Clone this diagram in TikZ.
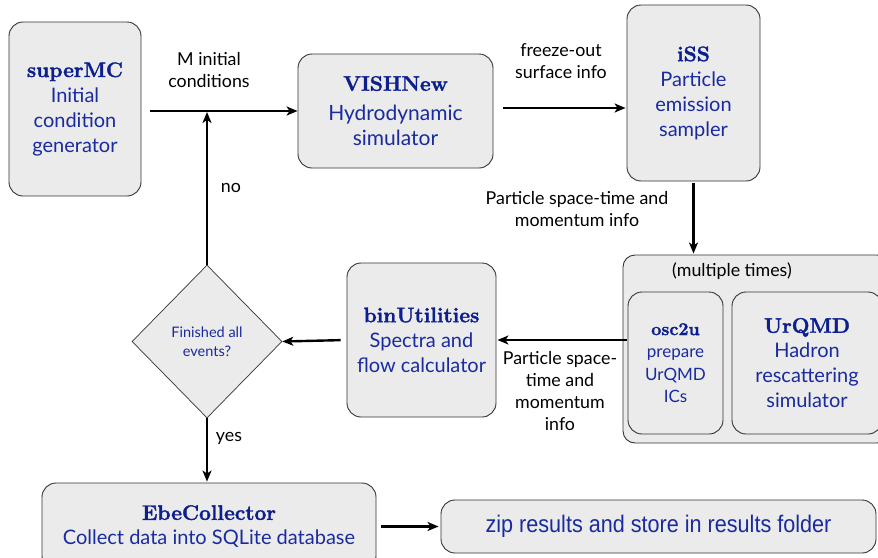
\documentclass[tikz,border=0pt]{standalone}
\usepackage{fontspec}
\setmainfont{Lato}
\newfontfamily\narrowfont{Liberation Sans}[FakeStretch=0.9]
\newfontfamily\titlefont{Latin Modern Roman}[BoldFeatures={FakeBold=1.6}]
\usetikzlibrary{arrows.meta,shapes.geometric}
\definecolor{BoxClr}{rgb}{0.92,0.92,0.92}
\definecolor{EdgeClr}{rgb}{0.2,0.2,0.2}
\definecolor{TitleClr}{rgb}{0.05,0.12,0.55}
\definecolor{TextClr}{rgb}{0.1,0.17,0.62}
\newcommand{\ttl}[1]{{\titlefont\bfseries\fontsize{21}{25}\selectfont\color{TitleClr}#1}}

\tikzset{
  prog/.style={draw=EdgeClr,fill=BoxClr,line width=0.9pt,rounded corners=14pt,
    align=center,text=TextClr,inner sep=0pt,font=\fontsize{20}{25}\selectfont},
  lbl/.style={align=center,text=black,font=\fontsize{17.8}{22}\selectfont},
  flow/.style={line width=2.4pt,-{Stealth[length=11pt,width=9pt,inset=3pt]}}
}

\begin{document}
\begin{tikzpicture}[x=1pt,y=-1pt]
\useasboundingbox (0,0) rectangle (878,557);

\node[prog,minimum width=132pt,minimum height=174pt] (superMC) at (75,109)
  {\ttl{superMC}\\Initial\\condition\\generator};
\node[prog,minimum width=195pt,minimum height=114pt,font=\fontsize{21}{25}\selectfont] (VISHNew) at (395.5,111)
  {\ttl{VISHNew}\\[5pt]Hydrodynamic\\simulator};
\node[prog,minimum width=133pt,minimum height=176pt] (iSS) at (693.5,93)
  {\ttl{iSS}\\Particle\\emission\\sampler};

\node[prog,minimum width=266pt,minimum height=188pt,rounded corners=12pt] (multi) at (756,349) {};
\node[lbl] (times) at (732,271) {(multiple times)};
\node[prog,minimum width=95pt,minimum height=142pt,font=\fontsize{17}{22.5}\selectfont] (osc2u) at (675.5,363)
  {{\titlefont\bfseries\fontsize{18}{22}\selectfont\color{TitleClr}osc2u}\\prepare\\UrQMD\\ICs};
\node[prog,minimum width=150pt,minimum height=142pt] (UrQMD) at (807,363)
  {\ttl{UrQMD}\\Hadron\\rescattering\\simulator};

\node[prog,minimum width=149pt,minimum height=154pt] (bin) at (421.5,340)
  {\ttl{binUtilities}\\Spectra and\\flow calculator};
\node[diamond,draw=EdgeClr,fill=BoxClr,line width=0.7pt,minimum width=150pt,minimum height=153pt,
  inner sep=0pt,align=center,text=TextClr,font=\fontsize{14.5}{19}\selectfont] (dec) at (207,341.5)
  {Finished all\\events?};

\node[prog,minimum width=334pt,minimum height=87pt] (ebe) at (209,526.5)
  {\ttl{EbeCollector}\\Collect data into SQLite database};
\node[prog,minimum width=435pt,minimum height=53pt,font=\fontsize{24}{25}\narrowfont] (zip) at (658.5,526.5)
  {zip results and store in results folder};

\coordinate (join) at (dec.north |- VISHNew.west);

\draw[flow,shorten <=9pt] (superMC.east |- VISHNew.west) -- (VISHNew.west);
\draw[flow,shorten >=1pt] (dec.north) -- (join);
\draw[flow,shorten <=10pt,shorten >=1pt] (VISHNew.east |- 0,108) -- (iSS.west |- 0,108);
\draw[flow,shorten <=2pt,shorten >=1pt] (iSS.south) -- (iSS.south |- multi.north);
\draw[flow,shorten <=-4pt,shorten >=1pt] (multi.west |- bin.east) -- (bin.east);
\draw[flow,shorten <=6pt] (bin.west) -- (dec.east);
\draw[flow,shorten >=1pt] (dec.south) -- (dec.south |- ebe.north);
\draw[flow,shorten <=5pt,shorten >=2pt] (ebe.east |- zip.west) -- (zip.west);

\node[lbl] (lblM) at (209,70) {M initial\\conditions};
\node[lbl] (lblno) at (231,188) {no};
\node[lbl] (lblfo) at (561,61) {freeze-out\\surface info};
\node[lbl] (lblpst) at (577,209) {Particle space-time and\\momentum info};
\node[lbl] (lblpst2) at (560,391) {Particle space-\\time and\\momentum\\info};
\node[lbl] (lblyes) at (229,438) {yes};
\end{tikzpicture}
\end{document}
